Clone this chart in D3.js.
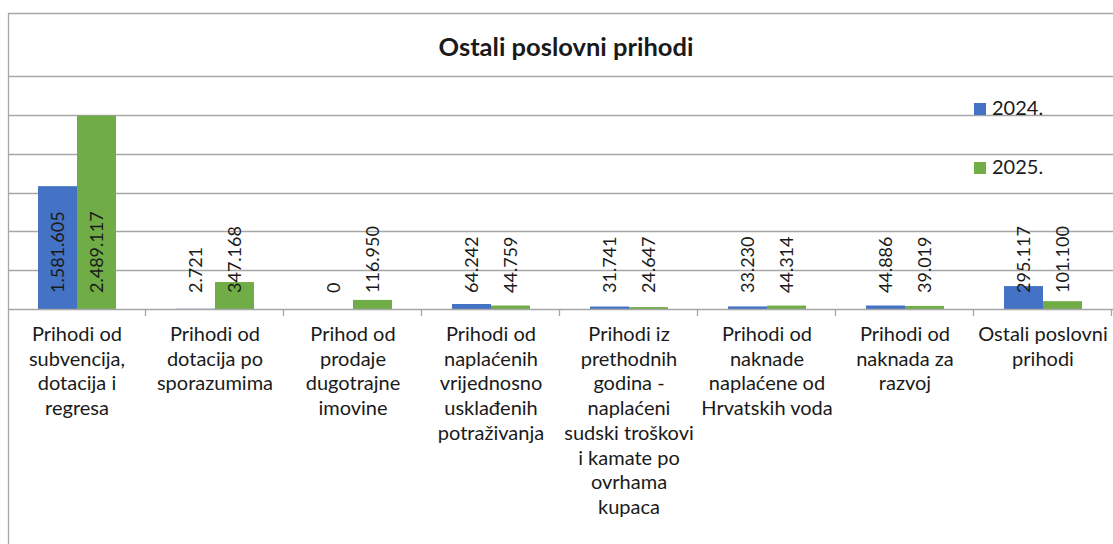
<!DOCTYPE html>
<html>
<head>
<meta charset="utf-8">
<script src="https://cdn.jsdelivr.net/npm/d3@7"></script>
<style>
  html, body { margin: 0; padding: 0; background: #fff; }
  svg { display: block; }
  text { font-family: Lato, "Liberation Sans", sans-serif; fill: #1a1a1a; }
</style>
</head>
<body>
<svg id="chart" width="1113" height="544"></svg>
<script>
// ---- data ----
const title = "Ostali poslovni prihodi";
const categories = [
  "Prihodi od\nsubvencija,\ndotacija i\nregresa",
  "Prihodi od\ndotacija po\nsporazumima",
  "Prihod od\nprodaje\ndugotrajne\nimovine",
  "Prihodi od\nnaplaćenih\nvrijednosno\nusklađenih\npotraživanja",
  "Prihodi iz\nprethodnih\ngodina -\nnaplaćeni\nsudski troškovi\ni kamate po\novrhama\nkupaca",
  "Prihodi od\nnaknade\nnaplaćene od\nHrvatskih voda",
  "Prihodi od\nnaknada za\nrazvoj",
  "Ostali poslovni\nprihodi"
];
const seriesNames = ["2024.", "2025."];
const values2024 = [1581605, 2721, 0, 64242, 31741, 33230, 44886, 295117];
const values2025 = [2489117, 347168, 116950, 44759, 24647, 44314, 39019, 101100];
const gridTicks = [0, 500000, 1000000, 1500000, 2000000, 2500000, 3000000];
const colors = ["#4472C4", "#70AD47"];

// ---- layout ----
const svg = d3.select("#chart");
const W = 1113, H = 544;
const plot = { left: 8, right: 1112, top: 76, bottom: 309 };

svg.append("rect").attr("width", W).attr("height", H).attr("fill", "#fff");

const x0 = d3.scaleBand().domain(d3.range(categories.length))
  .range([plot.left, plot.right]).paddingInner(0).paddingOuter(0);
const x1 = d3.scaleBand().domain(d3.range(seriesNames.length))
  .range([0, x0.bandwidth()]).paddingInner(0).paddingOuter(0.77);
const y = d3.scaleLinear().domain([0, 3000000]).range([plot.bottom, plot.top]);

const fmt = d3.formatLocale({ decimal: ",", thousands: ".", grouping: [3], currency: ["", ""] }).format(",.0f");

// chart border (top & left, rest cropped)
svg.append("line").attr("x1", 8.5).attr("x2", 8.5).attr("y1", 13.5).attr("y2", H)
  .attr("stroke", "#a6a6a6").attr("stroke-width", 1.3);
svg.append("line").attr("x1", 8).attr("x2", W).attr("y1", 13.5).attr("y2", 13.5)
  .attr("stroke", "#a6a6a6").attr("stroke-width", 1.3);

// gridlines
svg.append("g").selectAll("line").data(gridTicks.filter(d => d > 0)).join("line")
  .attr("x1", plot.left).attr("x2", W)
  .attr("y1", d => Math.round(y(d)) + 0.5).attr("y2", d => Math.round(y(d)) + 0.5)
  .attr("stroke", "#a6a6a6").attr("stroke-width", 1.3);

// title
svg.append("text").attr("x", 566).attr("y", 56).attr("text-anchor", "middle")
  .attr("font-size", 25.5).attr("font-weight", "bold").attr("fill", "#000").text(title);

// bars
const seriesData = [values2024, values2025];
const groups = svg.append("g").selectAll("g").data(categories).join("g")
  .attr("transform", (d, i) => `translate(${x0(i)},0)`);

groups.selectAll("rect").data((d, i) => seriesData.map((s, k) => ({ k, v: s[i] }))).join("rect")
  .attr("x", d => x1(d.k)).attr("width", x1.bandwidth())
  .attr("y", d => y(d.v)).attr("height", d => y(0) - y(d.v))
  .attr("fill", d => colors[d.k]);

// category axis line
svg.append("line").attr("x1", plot.left).attr("x2", W)
  .attr("y1", plot.bottom + 0.5).attr("y2", plot.bottom + 0.5)
  .attr("stroke", "#a6a6a6").attr("stroke-width", 1.3);
// tick marks at category boundaries
svg.append("g").selectAll("line").data(d3.range(1, categories.length + 1)).join("line")
  .attr("x1", i => Math.round(x0.step() * i + plot.left) - 0.5)
  .attr("x2", i => Math.round(x0.step() * i + plot.left) - 0.5)
  .attr("y1", plot.bottom).attr("y2", plot.bottom + 7)
  .attr("stroke", "#a6a6a6").attr("stroke-width", 1.3);

// value labels
groups.selectAll("text.val").data((d, i) => seriesData.map((s, k) => ({ k, v: s[i] }))).join("text")
  .attr("class", "val")
  .attr("transform", d => `translate(${x1(d.k) + x1.bandwidth() / 2 + 6.5},293) rotate(-90)`)
  .attr("font-size", 18).attr("text-anchor", "start")
  .text(d => fmt(d.v));

// category labels
const catG = svg.append("g").selectAll("text").data(categories).join("text")
  .attr("text-anchor", "middle").attr("font-size", 20);
catG.each(function (d, i) {
  const t = d3.select(this);
  d.split("\n").forEach((line, j) => {
    t.append("tspan").attr("x", x0(i) + x0.bandwidth() / 2).attr("y", 341 + j * 24.7).text(line);
  });
});

// legend
const leg = svg.append("g").selectAll("g").data(seriesNames).join("g")
  .attr("transform", (d, i) => `translate(974,${103 + i * 59})`);
leg.append("rect").attr("width", 12).attr("height", 12).attr("fill", (d, i) => colors[i]);
leg.append("text").attr("x", 18).attr("y", 12).attr("font-size", 20).text(d => d);
</script>
</body>
</html>
